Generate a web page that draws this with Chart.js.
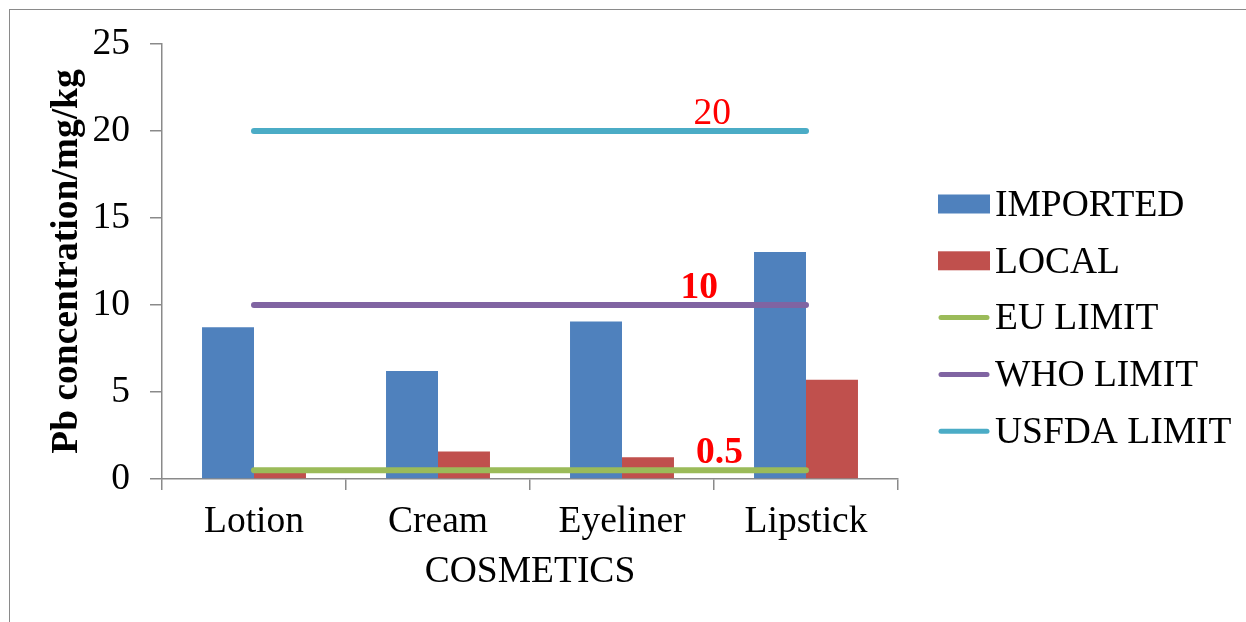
<!DOCTYPE html>
<html>
<head>
<meta charset="utf-8">
<script src="https://cdn.jsdelivr.net/npm/chart.js@4"></script>
<style>
  html, body { margin: 0; padding: 0; background: #fff; overflow: hidden; }
  #wrap { position: relative; width: 1246px; height: 622px; }
  #frame { position: absolute; left: 9px; top: 9px; width: 1400px; height: 800px;
           border-left: 1.5px solid #8a8a8a; border-top: 1.5px solid #8a8a8a; }
  canvas { position: absolute; left: 0; top: 0; }
</style>
</head>
<body>
<div id="wrap">
  <div id="frame"></div>
  <canvas id="myChart" width="1246" height="622"></canvas>
</div>
<script>
const categories = ['Lotion', 'Cream', 'Eyeliner', 'Lipstick'];
const imported = [8.72, 6.2, 9.05, 13.05];
const local = [0.6, 1.58, 1.25, 5.7];
const euLimit = [0.5, 0.5, 0.5, 0.5];
const whoLimit = [10, 10, 10, 10];
const usfdaLimit = [20, 20, 20, 20];
const yTicks = [0, 5, 10, 15, 20, 25];

const serif = '"Liberation Serif", "Times New Roman", serif';
const fontSize = 37.5;

// red value labels sitting on the limit lines (x given in category units)
const limitLabels = [
  { text: '0.5', value: euLimit[0], at: 2.53, bold: true },
  { text: '10', value: whoLimit[0], at: 2.42, bold: true },
  { text: '20', value: usfdaLimit[0], at: 2.49, bold: false }
];

const limitText = {
  id: 'limitText',
  afterDatasetsDraw(chart) {
    const ctx = chart.ctx;
    const x = chart.scales.x, y = chart.scales.y;
    ctx.save();
    ctx.fillStyle = '#ff0000';
    ctx.textAlign = 'center';
    ctx.textBaseline = 'alphabetic';
    limitLabels.forEach(l => {
      ctx.font = (l.bold ? 'bold ' : '') + fontSize + 'px ' + serif;
      ctx.fillText(l.text, x.getPixelForValue(l.at), y.getPixelForValue(l.value) - 7);
    });
    ctx.restore();
  }
};

// legend on the right, drawn by hand so the box/text spacing stays tight
const sideLegend = {
  id: 'sideLegend',
  afterDraw(chart) {
    const ctx = chart.ctx;
    const left = 938, top = 204, step = 56.8;
    ctx.save();
    ctx.font = fontSize + 'px ' + serif;
    ctx.textBaseline = 'middle';
    ctx.textAlign = 'left';
    chart.data.datasets.forEach((ds, i) => {
      const cy = top + i * step;
      if (ds.type === 'line') {
        ctx.strokeStyle = ds.borderColor;
        ctx.lineWidth = 5;
        ctx.lineCap = 'round';
        ctx.beginPath();
        ctx.moveTo(left + 3, cy);
        ctx.lineTo(left + 49, cy);
        ctx.stroke();
      } else {
        ctx.fillStyle = ds.backgroundColor;
        ctx.fillRect(left, cy - 9.5, 52, 19);
      }
      ctx.fillStyle = '#000';
      ctx.fillText(ds.label, left + 57, cy + 2);
    });
    ctx.restore();
  }
};

const lineSet = (label, data, color) => ({
  type: 'line', label, data, borderColor: color, backgroundColor: color,
  borderWidth: 6, borderCapStyle: 'round', pointRadius: 0, order: 0
});

const ctx = document.getElementById('myChart');
const myChart = new Chart(ctx, {
  type: 'bar',
  data: {
    labels: categories,
    datasets: [
      { label: 'IMPORTED', data: imported, backgroundColor: '#4f81bd', order: 1 },
      { label: 'LOCAL', data: local, backgroundColor: '#c0504d', order: 1 },
      lineSet('EU LIMIT', euLimit, '#9bbb59'),
      lineSet('WHO LIMIT', whoLimit, '#8064a2'),
      lineSet('USFDA LIMIT', usfdaLimit, '#4bacc6')
    ]
  },
  options: {
    responsive: false,
    animation: false,
    datasets: { bar: { categoryPercentage: 0.565, barPercentage: 1 } },
    layout: { padding: { top: 44, right: 348, bottom: 0, left: 0 } },
    plugins: { legend: { display: false }, tooltip: { enabled: false } },
    scales: {
      x: {
        grid: { drawOnChartArea: false, drawTicks: true, tickLength: 11, color: '#8a8a8a', lineWidth: 1.5, offset: true },
        border: { color: '#8a8a8a', width: 1.5 },
        ticks: { color: '#000', font: { family: serif, size: fontSize }, padding: 10 },
        title: { display: true, text: 'COSMETICS', color: '#000', font: { family: serif, size: fontSize }, padding: { top: 0, bottom: 27 } },
        afterFit(scale) { scale.height = 143; }
      },
      y: {
        min: 0, max: 25,
        afterBuildTicks(scale) { scale.ticks = yTicks.map(v => ({ value: v })); },
        grid: { drawOnChartArea: false, drawTicks: true, tickLength: 12, color: '#8a8a8a', lineWidth: 1.5 },
        border: { color: '#8a8a8a', width: 1.5 },
        ticks: { color: '#000', font: { family: serif, size: fontSize }, padding: 20 },
        title: { display: true, text: 'Pb concentration/mg/kg', color: '#000', font: { family: serif, size: fontSize, weight: 'bold' }, padding: { top: 45, bottom: 0 } },
        afterFit(scale) { scale.width = 162; }
      }
    }
  },
  plugins: [limitText, sideLegend]
});
</script>
</body>
</html>
